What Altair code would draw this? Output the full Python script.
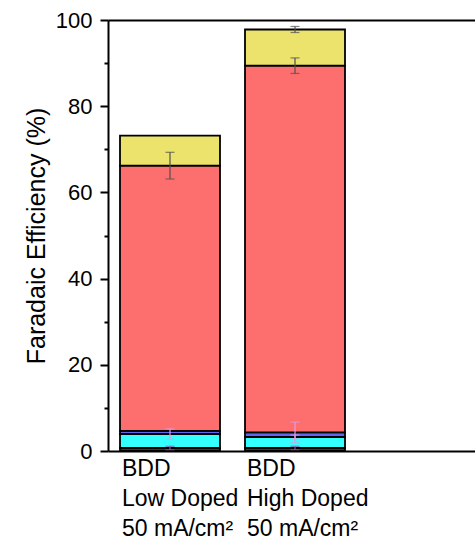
import altair as alt
import pandas as pd

# ---- data ----
categories = ["BDD|Low Doped|50 mA/cm²", "BDD|High Doped|50 mA/cm²"]
segments = ["Minor A", "Minor B", "Minor C", "Major", "Upper"]
seg_colors = ["#3a3a3a", "#33FFFF", "#6464F2", "#FD6F6F", "#EBE36B"]
low_doped_vals = [0.7, 3.25, 0.7, 61.55, 6.95]
high_doped_vals = [0.7, 2.55, 1.05, 85.1, 8.4]

# error bars (centre = stacked top of a segment, +/- size)
err_cat = [categories[0], categories[0], categories[0],
           categories[1], categories[1], categories[1], categories[1], categories[1]]
err_center = [66.2, 3.94, 0.7, 97.8, 89.4, 4.3, 3.25, 0.7]
err_size = [3.1, 1.2, 0.4, 0.7, 1.8, 2.4, 0.45, 0.4]
err_color = ["#505050", "#E39AE0", "#9050A0", "#505050", "#505050", "#E39AE0", "#E39AE0", "#9050A0"]

y_ticks = list(range(0, 101, 10))

rows = []
for cat, vals in zip(categories, [low_doped_vals, high_doped_vals]):
    for i, (s, v) in enumerate(zip(segments, vals)):
        rows.append({"cat": cat, "segment": s, "value": v, "order": i})
bar_df = pd.DataFrame(rows)

err_df = pd.DataFrame({
    "cat": err_cat,
    "lo": [c - e for c, e in zip(err_center, err_size)],
    "hi": [c + e for c, e in zip(err_center, err_size)],
    "ecolor": err_color,
})

FONT = "Liberation Sans"
xscale = alt.Scale(domain=categories, paddingInner=0.2, paddingOuter=0.568, align=0.0845)
yscale = alt.Scale(domain=[0, 100], nice=False)

yaxis = alt.Axis(
    values=y_ticks,
    labelExpr="datum.value % 20 === 0 ? datum.label : ''",
    tickSize={"condition": {"test": "datum.value % 20 === 0", "value": 8}, "value": 4},
    tickColor="black", tickWidth=2,
    domainColor="black", domainWidth=2,
    labelFont=FONT, labelFontSize=22, labelColor="black", labelPadding=8,
    title="Faradaic Efficiency (%)", titleFont=FONT, titleFontSize=25,
    titleFontWeight="normal", titleColor="black", titlePadding=6,
    grid=False,
)

xaxis_bottom = alt.Axis(
    orient="bottom", title=None, ticks=False,
    labelExpr="split(datum.label, '|')", labelAngle=0,
    labelAlign="left", labelBaseline="top", labelPadding=6, labelOffset=-48,
    labelLineHeight=30, labelFont=FONT, labelFontSize=23, labelColor="black",
    domainColor="black", domainWidth=2, grid=False,
)
xaxis_top = alt.Axis(
    orient="top", title=None, ticks=False, labels=False,
    domainColor="black", domainWidth=2, grid=False,
)

bars = alt.Chart(bar_df).mark_bar(stroke="black", strokeWidth=1.8).encode(
    x=alt.X("cat:N", scale=xscale, sort=categories, axis=xaxis_bottom),
    y=alt.Y("value:Q", stack="zero", scale=yscale, axis=yaxis),
    color=alt.Color("segment:N", scale=alt.Scale(domain=segments, range=seg_colors), legend=None),
    order=alt.Order("order:Q"),
)

rules = alt.Chart(err_df).mark_rule(strokeWidth=1.2).encode(
    x=alt.X("cat:N", scale=xscale, sort=categories, axis=xaxis_top),
    y=alt.Y("lo:Q", scale=yscale, axis=yaxis),
    y2="hi:Q",
    color=alt.Color("ecolor:N", scale=None),
)

caps_lo = alt.Chart(err_df).mark_tick(size=9, thickness=1.2).encode(
    x=alt.X("cat:N", scale=xscale, sort=categories, axis=None),
    y=alt.Y("lo:Q", scale=yscale, axis=yaxis),
    color=alt.Color("ecolor:N", scale=None),
)
caps_hi = alt.Chart(err_df).mark_tick(size=9, thickness=1.2).encode(
    x=alt.X("cat:N", scale=xscale, sort=categories, axis=None),
    y=alt.Y("hi:Q", scale=yscale, axis=yaxis),
    color=alt.Color("ecolor:N", scale=None),
)

chart = alt.layer(bars, rules, caps_lo, caps_hi).resolve_axis(x="independent").properties(
    width=367, height=431,
    padding={"left": 108, "top": 20, "right": 0, "bottom": 91},
    autosize=alt.AutoSizeParams(type="none"),
    background="white",
).configure_view(stroke=None)

chart.save("out.html", embed_options={"renderer": "svg", "actions": False})
